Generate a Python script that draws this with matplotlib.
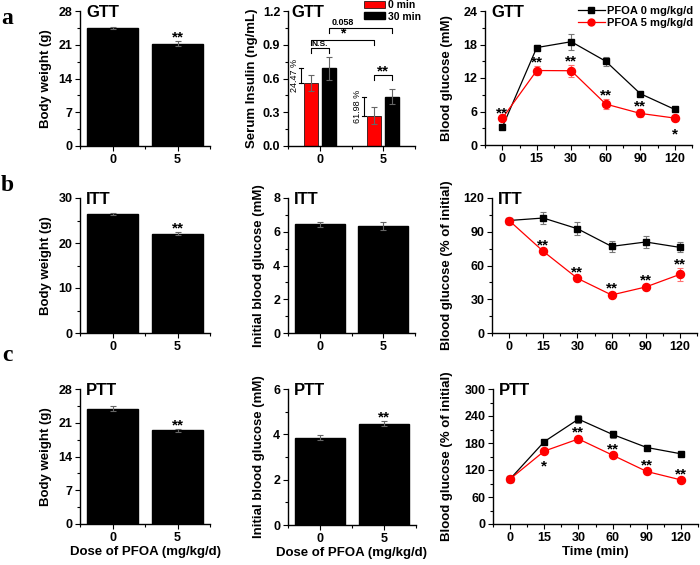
import matplotlib
matplotlib.use('Agg')
import matplotlib.pyplot as plt
from matplotlib.ticker import MultipleLocator, AutoMinorLocator, FormatStrFormatter
from matplotlib.lines import Line2D
from matplotlib.patches import Patch

plt.rcParams['font.family'] = ['Liberation Sans', 'DejaVu Sans']
plt.rcParams['font.weight'] = 'bold'
plt.rcParams['axes.labelweight'] = 'bold'
plt.rcParams['axes.linewidth'] = 1.0

# Datos
dosis = ['0', '5']
tiempos = ['0', '15', '30', '60', '90', '120']

# GTT
peso_gtt = [24.5, 21.2]
peso_gtt_err = [0.2, 0.5]
peso_gtt_sig = ['', '**']
insulina_0min = [0.56, 0.27]
insulina_0min_err = [0.07, 0.075]
insulina_30min = [0.69, 0.44]
insulina_30min_err = [0.10, 0.07]
insulina_pct = ['24.47 %', '61.98 %']
gtt_ctrl = [3.16, 17.45, 18.5, 15.0, 9.2, 6.37]
gtt_ctrl_err = [0.2, 0.4, 1.4, 0.8, 0.3, 0.2]
gtt_pfoa = [4.76, 13.34, 13.3, 7.33, 5.66, 4.82]
gtt_pfoa_err = [0.2, 0.8, 1.1, 0.9, 0.7, 0.5]
gtt_sig = ['**', '**', '**', '**', '**', '*']
gtt_sig_abajo = [False, False, False, False, False, True]

# ITT
peso_itt = [26.4, 22.1]
peso_itt_err = [0.2, 0.3]
peso_itt_sig = ['', '**']
glucosa_itt = [6.44, 6.34]
glucosa_itt_err = [0.14, 0.23]
itt_ctrl = [100, 102.2, 92.7, 77.0, 80.9, 76.1]
itt_ctrl_err = [0, 5, 6, 5, 5, 4.5]
itt_pfoa = [100, 72.6, 48.6, 33.8, 40.9, 52.1]
itt_pfoa_err = [0, 2.5, 2, 2.5, 3, 6]
itt_sig = ['', '**', '**', '**', '**', '**']
itt_sig_abajo = [False] * 6

# PTT
peso_ptt = [23.9, 19.4]
peso_ptt_err = [0.5, 0.3]
peso_ptt_sig = ['', '**']
glucosa_ptt = [3.86, 4.47]
glucosa_ptt_err = [0.12, 0.1]
glucosa_ptt_sig = ['', '**']
ptt_ctrl = [100, 183, 233, 199, 170, 156]
ptt_ctrl_err = [0, 4, 9, 8, 5, 3]
ptt_pfoa = [100, 162, 189, 153, 116.7, 98]
ptt_pfoa_err = [0, 4, 6, 6, 6, 5]
ptt_sig = ['', '*', '**', '**', '**', '**']
ptt_sig_abajo = [False, True, False, False, False, False]

ANCHO, ALTO = 700, 565
fig = plt.figure(figsize=(7, 5.65), dpi=100)


def crear_ejes(x0, x1, y0, y1):
    """Crea unos ejes a partir de su caja en pixeles."""
    return fig.add_axes([x0 / ANCHO, 1 - y1 / ALTO, (x1 - x0) / ANCHO, (y1 - y0) / ALTO])


def dar_estilo(ax, ymax, paso, etiqueta, x_etiqueta, formato='%d'):
    for lado in ['top', 'right']:
        ax.spines[lado].set_visible(False)
    ax.set_ylim(0, ymax)
    ax.yaxis.set_major_locator(MultipleLocator(paso))
    ax.yaxis.set_minor_locator(AutoMinorLocator(2))
    ax.yaxis.set_major_formatter(FormatStrFormatter(formato))
    ax.tick_params(which='both', direction='out', width=0.8, labelsize=9, pad=2)
    ax.tick_params(which='major', length=3.5)
    ax.tick_params(which='minor', length=2)
    ax.set_ylabel(etiqueta, fontsize=9.5, va='center')
    pos = ax.get_position()
    ax.yaxis.set_label_coords((x_etiqueta / ANCHO - pos.x0) / pos.width, 0.5)


def titulo(ax, texto, dx=4.5):
    ax.annotate(texto, xy=(0, 1), xycoords='axes fraction', xytext=(dx, -0.36 * 12),
                textcoords='offset points', fontsize=12, ha='left', va='baseline')


def estrella(ax, x, y, texto, abajo=False, fs=11):
    dy = (-6 if abajo else 6) - 0.58 * fs
    ax.annotate(texto, xy=(x, y), xytext=(0, dy), textcoords='offset points',
                ha='center', va='baseline', fontsize=fs, annotation_clip=False)


def graficar_barras(ax, valores, errores, signif):
    x = [1, 2]
    ax.bar(x, valores, width=0.78, color='black', edgecolor='black', yerr=errores,
           ecolor='#666666', capsize=2.5, error_kw=dict(elinewidth=0.8, capthick=0.8))
    for xi, v, e, s in zip(x, valores, errores, signif):
        if s:
            estrella(ax, xi, v + e, s)
    ax.set_xlim(0.5, 2.5)
    ax.set_xticks(x)
    ax.set_xticklabels(dosis)
    ax.set_xticks([0.5, 1.5, 2.5], minor=True)


def graficar_curvas(ax, ctrl, ctrl_err, pfoa, pfoa_err, signif, abajo):
    x = list(range(len(tiempos)))
    ax.errorbar(x, ctrl, yerr=ctrl_err, color='black', marker='s', ms=4.8, lw=0.9,
                ecolor='#777777', elinewidth=0.8, capsize=2.2, capthick=0.8)
    ax.errorbar(x, pfoa, yerr=pfoa_err, color='red', marker='o', ms=5.8, lw=0.9,
                ecolor='#ff7070', elinewidth=0.8, capsize=2.2, capthick=0.8)
    for xi, v, e, s, b in zip(x, pfoa, pfoa_err, signif, abajo):
        if s:
            estrella(ax, xi, v - e if b else v + e, s, abajo=b)
    ax.set_xlim(-0.5, 5.5)
    ax.set_xticks(x)
    ax.set_xticklabels(tiempos)
    ax.set_xticks([i + 0.5 for i in range(-1, 6)], minor=True)


def corchete(ax, x1, x2, y_arriba, y_abajo):
    ax.plot([x1, x1, x2, x2], [y_abajo, y_arriba, y_arriba, y_abajo], color='black',
            lw=0.8, clip_on=False)


# Fila a (GTT)
ax = crear_ejes(80, 210, 11, 146)
graficar_barras(ax, peso_gtt, peso_gtt_err, peso_gtt_sig)
dar_estilo(ax, 28, 7, 'Body weight (g)', 46)
titulo(ax, 'GTT')

ax = crear_ejes(288, 415, 11, 146)
desp = 0.14
grupos = [1, 2]
ax.bar([g - desp for g in grupos], insulina_0min, width=0.22, color='#ff0000', edgecolor='black',
       linewidth=0.5, yerr=insulina_0min_err, ecolor='#666666', capsize=2.2,
       error_kw=dict(elinewidth=0.8, capthick=0.8))
ax.bar([g + desp for g in grupos], insulina_30min, width=0.22, color='black', edgecolor='black',
       yerr=insulina_30min_err, ecolor='#666666', capsize=2.2,
       error_kw=dict(elinewidth=0.8, capthick=0.8))
ax.set_xlim(0.5, 2.5)
ax.set_xticks(grupos)
ax.set_xticklabels(dosis)
ax.set_xticks([0.5, 1.5, 2.5], minor=True)
dar_estilo(ax, 1.2, 0.3, 'Serum Insulin (ng/mL)', 252, '%.1f')
titulo(ax, 'GTT', dx=2.5)
# comparaciones entre grupos
corchete(ax, 1 + desp, 2 + desp, 1.049, 1.004)
ax.text(1.37, 1.095, '0.058', fontsize=6.5, ha='center', va='center')
corchete(ax, 1 - desp, 2 - desp, 0.942, 0.898)
estrella(ax, 1.5 - desp, 0.96, '*', fs=10)
corchete(ax, 1 - desp, 1 + desp, 0.871, 0.827)
ax.text(1, 0.905, 'N.S.', fontsize=6, ha='center', va='center')
corchete(ax, 2 - desp, 2 + desp, 0.631, 0.587)
estrella(ax, 2, 0.631, '**')
for g, y0, y1, pct in zip(grupos, insulina_0min, insulina_30min, insulina_pct):
    xb = g - 0.30
    ax.plot([xb, xb], [y0, y1], color='black', lw=0.8)
    ax.plot([xb - 0.03, xb + 0.03], [y0, y0], color='black', lw=0.8)
    ax.plot([xb - 0.03, xb + 0.03], [y1, y1], color='black', lw=0.8)
    ax.text(g - 0.40, (y0 + y1) / 2, pct, rotation=90, fontsize=6.5, fontweight='normal',
            ha='center', va='center')
fig.legend(handles=[Patch(facecolor='#ff0000', edgecolor='black', linewidth=0.5),
                    Patch(facecolor='black', edgecolor='black')],
           labels=['0 min', '30 min'], loc='upper left', bbox_to_anchor=(364 / ANCHO, 1.0),
           frameon=False, fontsize=7.5, handlelength=2.0, handleheight=0.65,
           handletextpad=0.3, labelspacing=0.15, borderpad=0, borderaxespad=0)

ax = crear_ejes(485, 692, 11, 145)
graficar_curvas(ax, gtt_ctrl, gtt_ctrl_err, gtt_pfoa, gtt_pfoa_err, gtt_sig, gtt_sig_abajo)
dar_estilo(ax, 24, 6, 'Blood glucose (mM)', 447)
titulo(ax, 'GTT')
fig.legend(handles=[Line2D([], [], color='black', marker='s', ms=4, lw=0.9),
                    Line2D([], [], color='red', marker='o', ms=5, lw=0.9)],
           labels=['PFOA 0 mg/kg/d', 'PFOA 5 mg/kg/d'], loc='upper left',
           bbox_to_anchor=(578 / ANCHO, 1 - 6 / ALTO), frameon=False, fontsize=8,
           handlelength=2.4, handletextpad=0.25, labelspacing=0.2, borderpad=0, borderaxespad=0)

# Fila b (ITT)
ax = crear_ejes(80, 210, 198, 333)
graficar_barras(ax, peso_itt, peso_itt_err, peso_itt_sig)
dar_estilo(ax, 30, 10, 'Body weight (g)', 46)
titulo(ax, 'ITT')

ax = crear_ejes(288, 415, 198, 333)
graficar_barras(ax, glucosa_itt, glucosa_itt_err, ['', ''])
dar_estilo(ax, 8, 2, 'Initial blood glucose (mM)', 259)
titulo(ax, 'ITT')

ax = crear_ejes(492, 697, 198, 333)
graficar_curvas(ax, itt_ctrl, itt_ctrl_err, itt_pfoa, itt_pfoa_err, itt_sig, itt_sig_abajo)
dar_estilo(ax, 120, 30, 'Blood glucose (% of initial)', 447)
titulo(ax, 'ITT')

# Fila c (PTT)
ax = crear_ejes(80, 210, 389, 524)
graficar_barras(ax, peso_ptt, peso_ptt_err, peso_ptt_sig)
dar_estilo(ax, 28, 7, 'Body weight (g)', 46)
titulo(ax, 'PTT')
ax.set_xlabel('Dose of PFOA (mg/kg/d)', fontsize=9.5, labelpad=2)

ax = crear_ejes(288, 416, 389, 525)
graficar_barras(ax, glucosa_ptt, glucosa_ptt_err, glucosa_ptt_sig)
dar_estilo(ax, 6, 2, 'Initial blood glucose (mM)', 259)
titulo(ax, 'PTT')
ax.set_xlabel('Dose of PFOA (mg/kg/d)', fontsize=9.5, labelpad=2)

ax = crear_ejes(493, 698, 389, 524)
graficar_curvas(ax, ptt_ctrl, ptt_ctrl_err, ptt_pfoa, ptt_pfoa_err, ptt_sig, ptt_sig_abajo)
dar_estilo(ax, 300, 60, 'Blood glucose (% of initial)', 447)
titulo(ax, 'PTT')
ax.set_xlabel('Time (min)', fontsize=9.5, labelpad=2)

# Letras de panel
for letra, y_base in [('a', 23.5), ('b', 191), ('c', 361)]:
    fig.text(7.5 / ANCHO, 1 - y_base / ALTO, letra, family=['Liberation Serif', 'DejaVu Serif'],
             fontsize=17, fontweight='bold', ha='center', va='baseline')

fig.savefig('out.png', dpi=100)
plt.close(fig)
